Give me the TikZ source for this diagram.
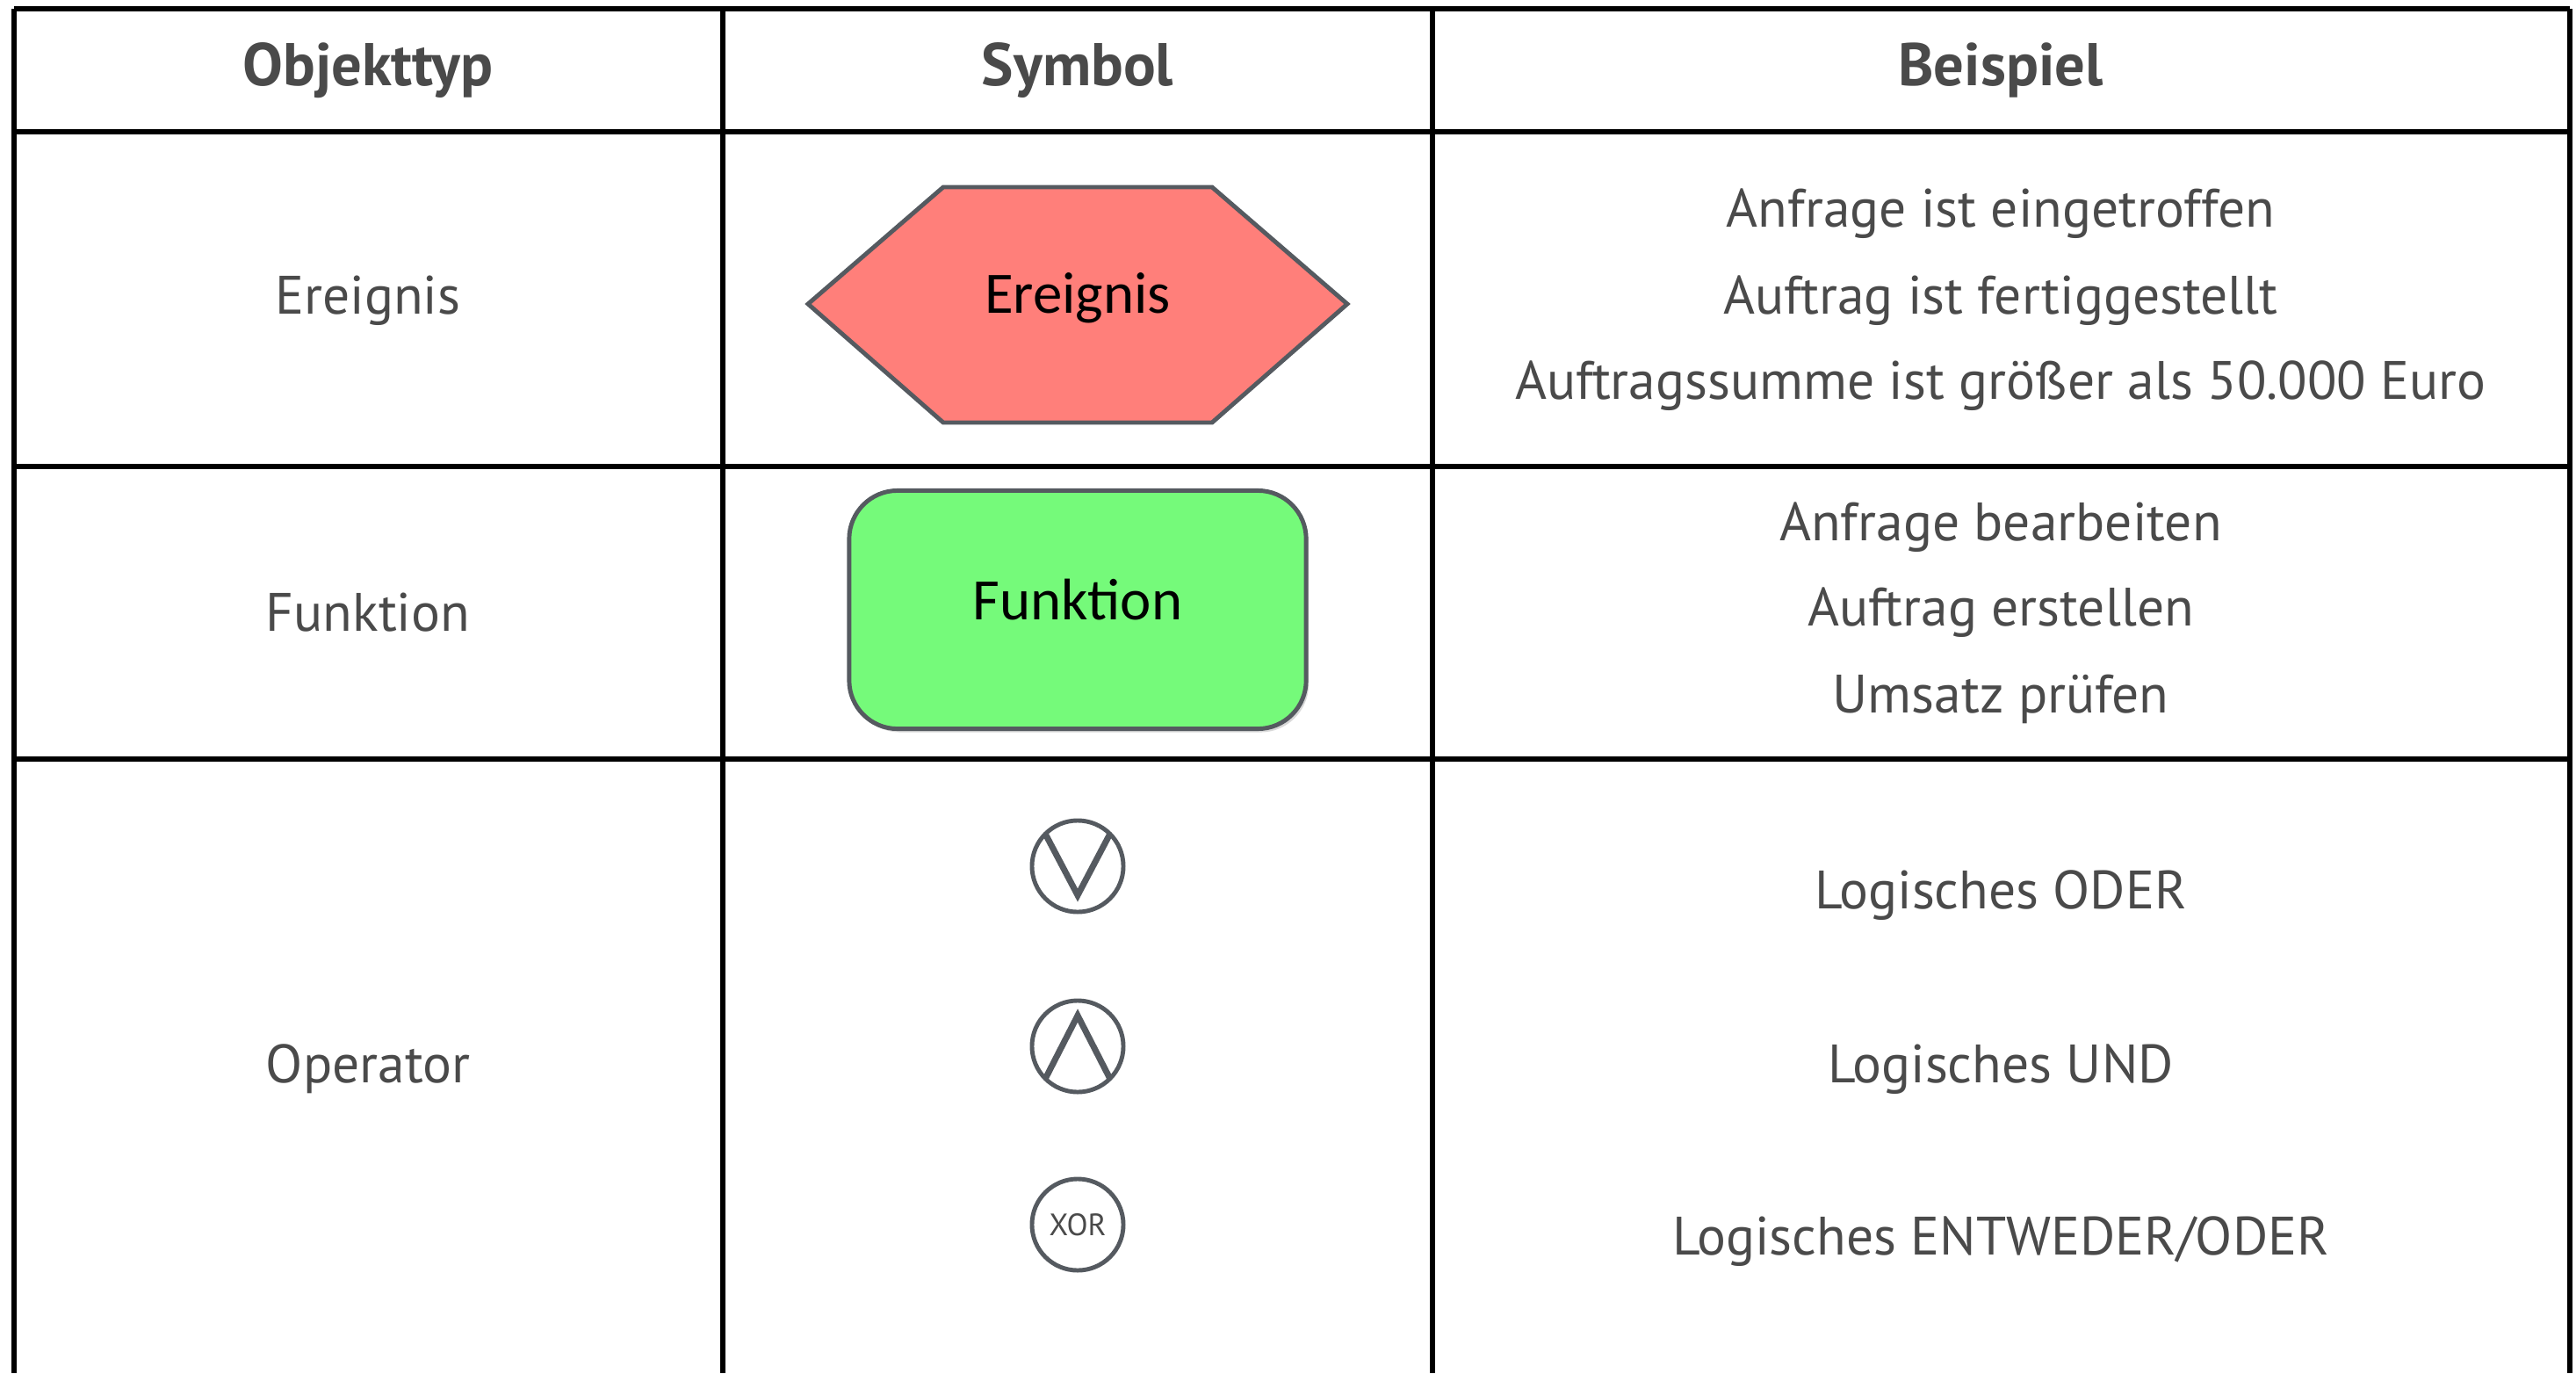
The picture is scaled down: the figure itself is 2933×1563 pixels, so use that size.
\documentclass[tikz,border=0pt]{standalone}
\usepackage{fontspec}
\setmainfont{PT Sans}
\newfontfamily\symfont{Carlito}
\usepackage{tikz}
\usetikzlibrary{positioning}
\usetikzlibrary{shadows}
\definecolor{txtgray}{HTML}{4A4A4A}
\definecolor{symgray}{HTML}{555A60}
\definecolor{evred}{HTML}{FF7F7A}
\definecolor{fngreen}{HTML}{75FA7A}
\tikzset{
	gridline/.style={line width=1.45pt, black},
	headtext/.style={text=txtgray, font=\fontsize{19.5}{22}\selectfont\bfseries},
	celltext/.style={text=txtgray, font=\fontsize{17.5}{20}\selectfont},
	symtext/.style={text=black, font=\symfont\fontsize{19}{22}\selectfont},
	opcircle/.style={circle, draw=symgray, line width=1.4pt, inner sep=0pt, outer sep=0pt, minimum size=1.04cm},
	opstroke/.style={draw=symgray, line width=2pt}
}
\begin{document}
\begin{tikzpicture}[x=0.01cm, y=-0.01cm]
		\useasboundingbox (0,0) rectangle (2933,1563);
		
		% table grid, open at the bottom
		\foreach \gx in {16,823,1631,2926} \draw [gridline] (\gx,10) -- (\gx,1563);
		\foreach \gy in {10,150,531,864} \draw [gridline] (16,\gy) -- (2926,\gy);
		
		\node at (419,80) [headtext] (hdtyp) {Objekttyp};
		\node at (1227,80) [headtext] (hdsym) {Symbol};
		\node at (2278,80) [headtext] (hdbsp) {Beispiel};
		
		% Ereignis
		\node at (419,342) [celltext] (evtyp) {Ereignis};
		\draw [draw=symgray, fill=evred, line width=1.4pt] (920,346) -- (1074,213) -- (1380,213) -- (1534,346) -- (1380,481) -- (1074,481) -- cycle;
		\node at (1227,339) [symtext] (evsym) {Ereignis};
		\node at (2278,243) [celltext] (evbsp1) {Anfrage ist eingetroffen};
		\node at (2278,342) [celltext] (evbsp2) {Auftrag ist fertiggestellt};
		\node at (2278,439) [celltext] (evbsp3) {Auftragssumme ist größer als 50.000 Euro};
		
		% Funktion
		\node at (419,697) [celltext] (fntyp) {Funktion};
		\node at (1227,694) [draw=symgray, fill=fngreen, line width=1.4pt, rounded corners=0.55cm, minimum width=5.2cm, minimum height=2.71cm, drop shadow={opacity=0.3, shadow xshift=0.03cm, shadow yshift=-0.04cm}] (fnsym) {};
		\node at ([yshift=0.11cm]fnsym.center) [symtext] (fnlabel) {Funktion};
		\node at (2278,600) [celltext] (fnbsp1) {Anfrage bearbeiten};
		\node at (2278,697) [celltext] (fnbsp2) {Auftrag erstellen};
		\node at (2278,796) [celltext] (fnbsp3) {Umsatz prüfen};
		
		% Operatoren
		\node at (419,1217) [celltext] (optyp) {Operator};
		\node at (1227,986) [opcircle] (orop) {};
		\draw [opstroke] (orop.north west) -- ([yshift=0.19cm]orop.south) -- (orop.north east);
		\node at (1227,1191) [opcircle] (andop) {};
		\draw [opstroke] (andop.south west) -- ([yshift=-0.17cm]andop.north) -- (andop.south east);
		\node at (1227,1394) [opcircle, text=txtgray, font=\fontsize{10}{12}\selectfont] (xorop) {XOR};
		\node at (2278,1019) [celltext] (orbsp) {Logisches ODER};
		\node at (2278,1217) [celltext] (andbsp) {Logisches UND};
		\node at (2278,1413) [celltext] (xorbsp) {Logisches ENTWEDER/ODER};
		
\end{tikzpicture}
\end{document}
